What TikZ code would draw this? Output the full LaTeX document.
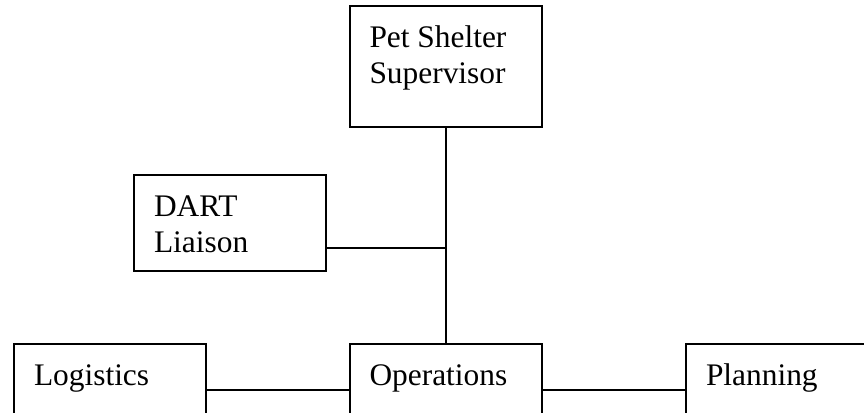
\documentclass[tikz,border=0pt]{standalone}
\usepackage{fontspec}
\setmainfont{Liberation Serif}
\newcommand\boxlabel[3]{\parbox[t][#2][t]{#1}{\fontsize{31.4pt}{36pt}\selectfont\leftskip=20pt\rightskip=0pt plus 1fil\parindent=0pt\rule{0pt}{41pt}#3}}
\tikzset{
  orgbox/.style={draw, line width=2pt, inner sep=0pt, anchor=north west},
  link/.style={line width=2pt}
}
\begin{document}
\begin{tikzpicture}[x=1pt,y=-1pt]
\useasboundingbox (0,0) rectangle (864,412);
\clip (0,0) rectangle (864,412);
\node[orgbox] (sup) at (348.5,5.5) {\boxlabel{192pt}{120pt}{Pet Shelter\\Supervisor}};
\node[orgbox] (dart) at (133,174) {\boxlabel{192pt}{96pt}{DART\\Liaison}};
\node[orgbox] (log) at (13,343) {\boxlabel{192pt}{120pt}{Logistics}};
\node[orgbox] (ops) at (348.5,343) {\boxlabel{192pt}{120pt}{Operations}};
\node[orgbox] (plan) at (685,343) {\boxlabel{192pt}{120pt}{Planning}};
\draw[link] (sup.south) -- (ops.north);
\coordinate (dj) at ([yshift=24pt]dart.south east);
\draw[link] (dj) -- (dj -| sup.south);
\draw[link] ([yshift=-47pt]log.north east) -- ([yshift=-47pt]ops.north west);
\draw[link] ([yshift=-47pt]ops.north east) -- ([yshift=-47pt]plan.north west);
\end{tikzpicture}
\end{document}
